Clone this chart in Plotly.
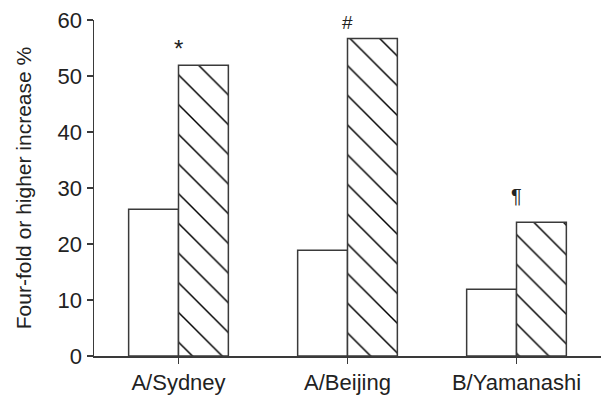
import plotly.graph_objects as go

categories = ["A/Sydney", "A/Beijing", "B/Yamanashi"]
open_values = [26.2, 18.9, 11.9]
hatched_values = [51.9, 56.7, 23.9]
markers = ["*", "#", "¶"]
marker_y = [54.9, 59.6, 28.6]
marker_sizes = [24, 19, 20]

FONT = "Liberation Sans, Arial, sans-serif"
LINE = "#3a3a3a"

fig = go.Figure()
fig.add_trace(go.Bar(
    x=categories, y=open_values, name="open",
    marker=dict(color="white", line=dict(color=LINE, width=1.5)),
))
fig.add_trace(go.Bar(
    x=categories, y=hatched_values, name="hatched",
    marker=dict(color="white", line=dict(color=LINE, width=1.5),
                pattern=dict(shape="\\", size=21, solidity=0.07,
                             fgcolor="#000000", fgopacity=1, bgcolor="white",
                             fillmode="replace")),
))

for c, m, yv, s in zip(categories, markers, marker_y, marker_sizes):
    fig.add_annotation(x=c, y=yv, text=m, showarrow=False,
                       font=dict(family=FONT, size=s, color="#222"),
                       xanchor="center", yanchor="middle")

fig.update_layout(
    width=602, height=396,
    margin=dict(l=94, r=1, t=20, b=37),
    paper_bgcolor="white", plot_bgcolor="white",
    barmode="group", bargap=0.41, bargroupgap=0,
    showlegend=False,
    font=dict(family=FONT, size=22, color="#222"),
    xaxis=dict(
        range=[-0.5, 2.5], showline=True, linecolor=LINE, linewidth=1.5,
        ticks="outside", ticklen=6, tickcolor=LINE, tickwidth=1.5,
        showgrid=False, zeroline=False,
        tickfont=dict(family=FONT, size=22, color="#222"),
    ),
    yaxis=dict(
        range=[0, 60], dtick=10, showline=True, linecolor=LINE, linewidth=1.5,
        ticks="outside", ticklen=6, tickcolor=LINE, tickwidth=1.5,
        showgrid=False, zeroline=False,
        tickfont=dict(family=FONT, size=22, color="#222"),
        title=dict(text="Four-fold or higher increase %",
                   font=dict(family=FONT, size=21, color="#222"), standoff=20),
    ),
)

fig.write_html(
    "out.html",
    config={"displayModeBar": False, "staticPlot": True},
    post_script="document.body.style.margin='0';document.body.style.overflow='hidden';",
)
